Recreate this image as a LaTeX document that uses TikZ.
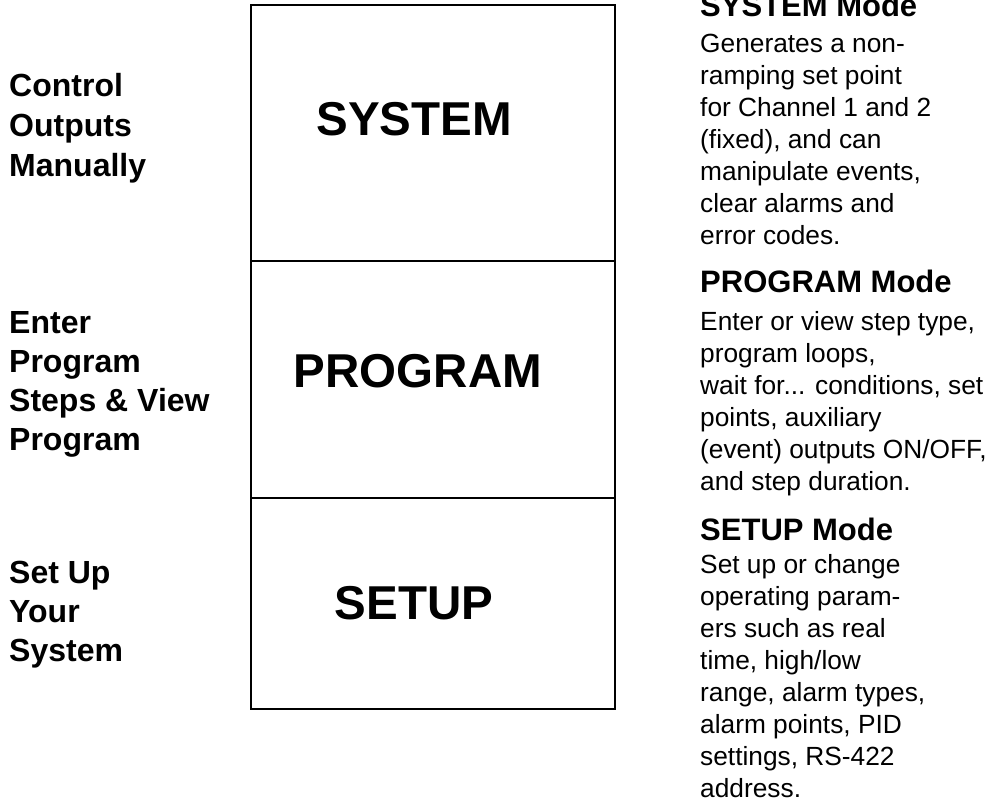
\documentclass[tikz,border=0pt]{standalone}
\usepackage{fontspec}
\setmainfont{Liberation Sans}
\begin{document}
\begin{tikzpicture}[x=1pt,y=-1pt,
  boxline/.style={draw=black,line width=2.5pt},
  lefttxt/.style={anchor=base west,inner sep=0pt,font=\fontsize{32}{38}\selectfont\bfseries},
  modelabel/.style={anchor=center,inner sep=0pt,font=\fontsize{47.5}{50}\selectfont\bfseries},
  headtxt/.style={anchor=base west,inner sep=0pt,font=\fontsize{31}{34}\selectfont\bfseries},
  bodytxt/.style={anchor=base west,inner sep=0pt,font=\fontsize{26.3}{32}\selectfont}]
\useasboundingbox (0,0) rectangle (990,802);
\clip (0,0) rectangle (990,802);
% box
\draw[boxline] (251,5) rectangle (615,709);
\draw[boxline] (251,261) -- (615,261);
\draw[boxline] (251,498) -- (615,498);
% mode labels
\node[modelabel] (sysl) at (414,119) {SYSTEM};
\node[modelabel] (progl) at (418,371) {PROGRAM};
\node[modelabel] (setl) at (414,603) {SETUP};
% left texts
\foreach \t [count=\i] in {Control,Outputs,Manually}
  \node[lefttxt] (la\i) at (9,{97+40*(\i-1)}) {\t};
\foreach \t [count=\i] in {Enter,Program,{Steps \& View},Program}
  \node[lefttxt] (lb\i) at (9,{333+39*(\i-1)}) {\t};
\foreach \t [count=\i] in {Set Up,Your,System}
  \node[lefttxt] (lc\i) at (9,{583+39*(\i-1)}) {\t};
% right texts
\node[headtxt] (h1) at (700,17) {SYSTEM Mode};
\foreach \t [count=\i] in {Generates a non-,ramping set point,for Channel 1 and 2,{(fixed), and can},{manipulate events,},clear alarms and,error codes.}
  \node[bodytxt] (ra\i) at (700,{53+32*(\i-1)}) {\t};
\node[headtxt] (h2) at (700,292) {PROGRAM Mode};
\node[bodytxt] (rb1) at (700,330) {Enter or view step type,};
\node[bodytxt] (rb2) at (700,362) {program loops,};
\node[bodytxt] (rb3) at (700,394) {wait for... conditions, set};
\node[bodytxt] (rb4) at (700,426) {points, auxiliary};
\node[bodytxt] (rb5) at (700,458) {(event) outputs ON/OFF,};
\node[bodytxt] (rb6) at (700,490) {and step duration.};
\node[headtxt] (h3) at (700,540) {SETUP Mode};
\foreach \t [count=\i] in {Set up or change,operating param-,ers such as real,{time, high/low},{range, alarm types,},{alarm points, PID},{settings, RS-422},address.}
  \node[bodytxt] (rc\i) at (700,{573+32*(\i-1)}) {\t};
\end{tikzpicture}
\end{document}
